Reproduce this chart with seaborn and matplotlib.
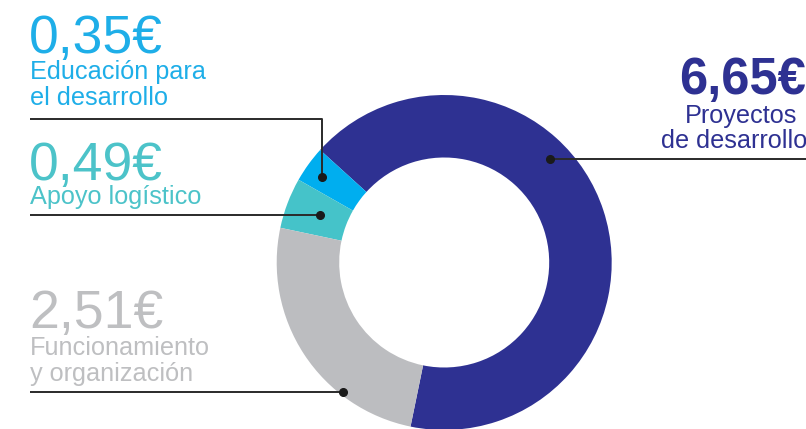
import numpy as np
import matplotlib
matplotlib.use("Agg")
import matplotlib.pyplot as plt
import seaborn as sns

# ---------- Data ----------
values = [6.65, 0.35, 0.49, 2.51]
amounts = ["6,65€", "0,35€", "0,49€", "2,51€"]
names = [["Proyectos", "de desarrollo"],
         ["Educación para", "el desarrollo"],
         ["Apoyo logístico"],
         ["Funcionamiento", "y organización"]]
colors = ["#2E3192", "#00AEEF", "#45C3C9", "#BCBDC0"]
text_colors = ["#2E3192", "#1EAEE8", "#4CC3C9", "#BEBFC1"]

sns.set_style("white")
plt.rcParams["font.family"] = ["Liberation Sans", "DejaVu Sans"]

W, H = 806, 429
fig = plt.figure(figsize=(W / 100, H / 100), dpi=100)
ax = fig.add_axes([0, 0, 1, 1])

# donut, in pixel coordinates (y up)
cx, cy, R = 444.2, H - 262.5, 167.5
ax.pie(values, colors=colors, startangle=-101.6, counterclock=True,
       center=(cx, cy), radius=R,
       wedgeprops=dict(width=R - 105, edgecolor="none"))
ax.set_xlim(0, W)
ax.set_ylim(0, H)
ax.set_aspect("equal")
ax.axis("off")

def Y(y):
    return H - y

line_kw = dict(color="#2a2a2a", lw=1.4, solid_capstyle="butt", clip_on=False)
dot_kw = dict(marker="o", ms=5.5, color="#1a1a1a", clip_on=False)
big = 38.5
small = 18.2

# Proyectos de desarrollo (right)
ax.text(806, Y(94), amounts[0], color=text_colors[0], fontsize=36.5,
        fontweight="bold", ha="right", va="baseline")
ax.text(797, Y(122.5), names[0][0], color=text_colors[0], fontsize=small,
        ha="right", va="baseline")
ax.text(807, Y(148.5), names[0][1], color=text_colors[0], fontsize=small,
        ha="right", va="baseline")
ax.plot([550, 806], [Y(159), Y(159)], **line_kw)
ax.plot([550], [Y(159)], **dot_kw)

# Educación para el desarrollo
ax.text(29, Y(53), amounts[1], color=text_colors[1], fontsize=big,
        ha="left", va="baseline")
ax.text(30, Y(79), names[1][0], color=text_colors[1], fontsize=small,
        ha="left", va="baseline")
ax.text(30, Y(105), names[1][1], color=text_colors[1], fontsize=small,
        ha="left", va="baseline")
ax.plot([30, 321.7, 321.7], [Y(118.5), Y(118.5), Y(177.3)], **line_kw)
ax.plot([321.7], [Y(177.3)], **dot_kw)

# Apoyo logístico
ax.text(29, Y(180), amounts[2], color=text_colors[2], fontsize=big,
        ha="left", va="baseline")
ax.text(30, Y(204), names[2][0], color=text_colors[2], fontsize=small,
        ha="left", va="baseline")
ax.plot([30, 320], [Y(215), Y(215)], **line_kw)
ax.plot([320], [Y(215)], **dot_kw)

# Funcionamiento y organización
ax.text(29, Y(328.3), amounts[3], color=text_colors[3], fontsize=big,
        ha="left", va="baseline")
ax.text(30, Y(355), names[3][0], color=text_colors[3], fontsize=small,
        ha="left", va="baseline")
ax.text(30, Y(381.5), names[3][1], color=text_colors[3], fontsize=small,
        ha="left", va="baseline")
ax.plot([30, 343.3], [Y(392.3), Y(392.3)], **line_kw)
ax.plot([343.3], [Y(392.3)], **dot_kw)

fig.savefig("out.png", dpi=100)
